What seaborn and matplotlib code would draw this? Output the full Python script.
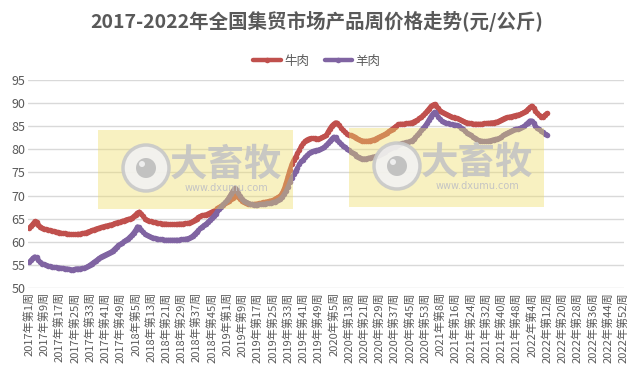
import numpy as np
import pandas as pd
import seaborn as sns
import matplotlib.pyplot as plt
from matplotlib.patches import Rectangle, Ellipse

################################################################################
# weekly prices (yuan/kg)

years = [2017, 2018, 2019, 2020, 2021, 2022]
weeks_per_year = [52, 52, 52, 53, 52, 52]

beef_2017 = [63.0, 63.4, 63.9, 64.4, 64.2, 63.7, 63.3, 63.0, 62.8, 62.7, 62.6, 62.5, 62.4,
             62.3, 62.2, 62.1, 62.0, 61.9, 61.8, 61.8, 61.7, 61.7, 61.6, 61.6, 61.6, 61.6,
             61.7, 61.7, 61.8, 61.9, 62.0, 62.2, 62.3, 62.5, 62.6, 62.8, 62.9, 63.0, 63.1,
             63.3, 63.4, 63.5, 63.6, 63.7, 63.8, 64.0, 64.1, 64.2, 64.3, 64.5, 64.6, 64.8]
beef_2018 = [64.9, 65.0, 65.2, 65.5, 65.9, 66.3, 66.5, 66.1, 65.5, 65.0, 64.7, 64.5, 64.4,
             64.3, 64.2, 64.1, 64.0, 64.0, 63.9, 63.9, 63.9, 63.8, 63.8, 63.8, 63.8, 63.8,
             63.8, 63.9, 63.9, 63.9, 64.0, 64.0, 64.1, 64.2, 64.4, 64.7, 65.0, 65.3, 65.5,
             65.7, 65.8, 65.9, 66.1, 66.3, 66.5, 66.7, 66.9, 67.2, 67.5, 67.8, 68.0, 68.3]
beef_2019 = [68.6, 68.9, 69.2, 69.5, 69.9, 70.1, 69.7, 69.2, 68.8, 68.5, 68.3, 68.2, 68.1,
             68.1, 68.1, 68.2, 68.2, 68.3, 68.4, 68.5, 68.6, 68.7, 68.8, 68.9, 69.0, 69.2,
             69.4, 69.7, 70.0, 70.6, 71.5, 72.8, 74.2, 75.6, 76.8, 77.7, 78.4, 79.1, 79.9,
             80.7, 81.3, 81.8, 82.1, 82.3, 82.4, 82.4, 82.4, 82.3, 82.3, 82.4, 82.6, 82.8]
beef_2020 = [83.0, 83.8, 84.5, 85.1, 85.5, 85.8, 85.7, 85.2, 84.6, 84.1, 83.7, 83.4, 83.2,
             83.0, 82.8, 82.6, 82.4, 82.2, 82.0, 81.9, 81.8, 81.8, 81.8, 81.9, 82.0, 82.1,
             82.3, 82.5, 82.7, 82.9, 83.1, 83.3, 83.6, 83.9, 84.2, 84.5, 84.8, 85.1, 85.4,
             85.5, 85.5, 85.5, 85.6, 85.6, 85.7, 85.8, 86.0, 86.2, 86.4, 86.7, 87.0, 87.4,
             87.8]
beef_2021 = [88.3, 88.8, 89.3, 89.6, 89.8, 89.4, 88.9, 88.4, 88.1, 87.8, 87.6, 87.4, 87.2,
             87.0, 86.9, 86.8, 86.7, 86.5, 86.3, 86.1, 85.9, 85.8, 85.7, 85.6, 85.5, 85.5,
             85.5, 85.5, 85.5, 85.5, 85.6, 85.6, 85.7, 85.7, 85.8, 85.8, 85.9, 86.0, 86.2,
             86.4, 86.6, 86.8, 86.9, 87.0, 87.1, 87.2, 87.3, 87.4, 87.5, 87.6, 87.8, 88.0]
beef_2022 = [88.3, 88.7, 89.1, 89.4, 89.0, 88.4, 87.8, 87.4, 87.1, 87.0, 87.5, 87.8]

mutton_2017 = [55.6, 56.0, 56.5, 56.8, 56.6, 56.0, 55.6, 55.3, 55.1, 54.9, 54.8, 54.7, 54.6,
               54.5, 54.5, 54.4, 54.4, 54.3, 54.3, 54.2, 54.2, 54.1, 54.0, 54.0, 54.1, 54.2,
               54.2, 54.2, 54.3, 54.3, 54.5, 54.7, 55.0, 55.3, 55.6, 55.9, 56.2, 56.5, 56.8,
               57.0, 57.2, 57.4, 57.6, 57.8, 58.1, 58.5, 58.9, 59.2, 59.5, 59.8, 60.1, 60.4]
mutton_2018 = [60.7, 61.1, 61.5, 62.0, 62.6, 63.3, 63.1, 62.6, 62.1, 61.7, 61.4, 61.2, 61.0,
               60.9, 60.8, 60.7, 60.6, 60.5, 60.5, 60.4, 60.4, 60.4, 60.4, 60.4, 60.4, 60.4,
               60.4, 60.4, 60.5, 60.5, 60.6, 60.7, 60.8, 61.0, 61.3, 61.7, 62.1, 62.5, 62.9,
               63.3, 63.6, 63.9, 64.3, 64.7, 65.1, 65.6, 66.1, 66.6, 67.1, 67.6, 68.1, 68.5]
mutton_2019 = [69.0, 69.6, 70.3, 71.0, 71.6, 71.2, 70.5, 69.8, 69.3, 68.9, 68.6, 68.4, 68.2,
               68.1, 68.0, 68.0, 68.0, 68.1, 68.1, 68.2, 68.2, 68.3, 68.3, 68.4, 68.5, 68.6,
               68.8, 69.0, 69.3, 69.7, 70.3, 71.0, 71.9, 72.9, 73.8, 74.6, 75.3, 76.0, 76.8,
               77.4, 77.8, 78.3, 78.7, 79.1, 79.4, 79.6, 79.7, 79.8, 79.9, 80.0, 80.2, 80.5]
mutton_2020 = [80.9, 81.3, 81.8, 82.3, 82.7, 82.6, 82.1, 81.6, 81.2, 80.8, 80.4, 80.1, 79.8,
               79.5, 79.2, 78.9, 78.6, 78.4, 78.2, 78.0, 78.0, 78.0, 78.1, 78.2, 78.3, 78.4,
               78.5, 78.6, 78.8, 79.0, 79.2, 79.5, 79.8, 80.1, 80.3, 80.5, 80.6, 80.8, 81.0,
               81.1, 81.3, 81.4, 81.5, 81.6, 81.7, 81.9, 82.2, 82.6, 83.1, 83.6, 84.1, 84.6,
               85.1]
mutton_2021 = [85.7, 86.4, 87.1, 87.7, 88.1, 87.6, 87.0, 86.5, 86.1, 85.9, 85.7, 85.6, 85.5,
               85.4, 85.3, 85.3, 85.2, 85.0, 84.7, 84.4, 84.0, 83.6, 83.3, 83.0, 82.7, 82.4,
               82.2, 82.0, 81.9, 81.8, 81.7, 81.7, 81.8, 81.9, 82.0, 82.1, 82.2, 82.3, 82.4,
               82.7, 83.0, 83.3, 83.5, 83.7, 83.9, 84.1, 84.3, 84.4, 84.5, 84.6, 84.8, 85.0]
mutton_2022 = [85.4, 85.8, 86.2, 86.2, 85.6, 85.0, 84.6, 84.3, 84.0, 83.7, 83.4, 83.2]

beef = beef_2017 + beef_2018 + beef_2019 + beef_2020 + beef_2021 + beef_2022
mutton = mutton_2017 + mutton_2018 + mutton_2019 + mutton_2020 + mutton_2021 + mutton_2022

series_names = ['牛肉', '羊肉']
series_colors = ['#C0504D', '#8064A2']

################################################################################

week_labels = []
for yr, nw in zip(years, weeks_per_year):
    for w in range(1, nw + 1):
        week_labels.append(str(yr) + '年第' + str(w) + '周')
n_cat = len(week_labels)

df = pd.concat([
    pd.DataFrame({'idx': np.arange(len(beef)), 'price': beef, 'series': series_names[0]}),
    pd.DataFrame({'idx': np.arange(len(mutton)), 'price': mutton, 'series': series_names[1]}),
], ignore_index=True)

sns.set_theme(style='white')
plt.rcParams['font.family'] = ['Noto Sans CJK SC', 'DejaVu Sans']

W, H = 634, 376
fig = plt.figure(figsize=(W / 100, H / 100), dpi=100)
ax = fig.add_axes([28 / W, 1 - 288 / H, (624 - 28) / W, (288 - 80) / H])

sns.lineplot(data=df, x='idx', y='price', hue='series', palette=series_colors,
             marker='o', markersize=4, markeredgewidth=0, linewidth=3.2, ax=ax,
             legend=True)

ax.set_xlim(-0.5, n_cat - 0.5)
ax.set_ylim(50, 95)
ax.set_yticks(np.arange(50, 96, 5))
ax.yaxis.grid(True, color='#D9D9D9', linewidth=1)
ax.xaxis.grid(False)
for s in ax.spines.values():
    s.set_visible(False)
tick_pos = list(range(0, n_cat, 8))
ax.set_xticks(tick_pos)
ax.set_xticklabels([week_labels[i] for i in tick_pos], rotation=90, fontsize=8, color='#595959')
ax.tick_params(axis='y', labelsize=9, labelcolor='#595959', pad=2, length=0)
ax.tick_params(axis='x', pad=3, length=0)
ax.set_xlabel('')
ax.set_ylabel('')

handles, labels = ax.get_legend_handles_labels()
ax.legend_.remove()
fig.legend(handles, labels, loc='center', bbox_to_anchor=(0.5, 1 - 61 / H), ncol=2,
           frameon=False, fontsize=9, handlelength=2.2, columnspacing=1.2,
           handletextpad=0.3, labelcolor='#595959')

fig.text(0.5, 1 - 21 / H, '2017-2022年全国集贸市场产品周价格走势(元/公斤)',
         ha='center', va='center', fontsize=14, fontweight='bold', color='#595959')

# watermark boxes over the plot
def px(x, y):
    return x / W, 1 - y / H

for x0, y0 in [(98, 130), (349, 128)]:
    fig.add_artist(Rectangle(px(x0, y0 + 79), 195 / W, 79 / H, transform=fig.transFigure,
                             facecolor='#EEDD66', edgecolor='none', alpha=0.4, zorder=5))
    cx, cy = x0 + 48, y0 + 38
    fig.add_artist(Ellipse(px(cx, cy), 46 / W, 46 / H, transform=fig.transFigure,
                           facecolor='#F2F2F2', edgecolor='#C8C8C8', linewidth=2.5, zorder=6,
                           alpha=0.9))
    fig.add_artist(Ellipse(px(cx, cy), 20 / W, 20 / H, transform=fig.transFigure,
                           facecolor='#BDBDBD', edgecolor='none', zorder=7, alpha=0.9))
    fig.add_artist(Ellipse(px(cx - 4, cy - 4), 6 / W, 6 / H, transform=fig.transFigure,
                           facecolor='#F2F2F2', edgecolor='none', zorder=7, alpha=0.9))
    fig.text(*px(x0 + 128, y0 + 34), '大畜牧', ha='center', va='center', fontsize=27,
             fontweight='bold', color='#C4C4C4', alpha=0.9, zorder=8)
    fig.text(*px(x0 + 128, y0 + 58), 'www.dxumu.com', ha='center', va='center',
             fontsize=7, color='#C4C4C4', zorder=8, family=['DejaVu Sans'])

fig.savefig('out.png', dpi=100)
